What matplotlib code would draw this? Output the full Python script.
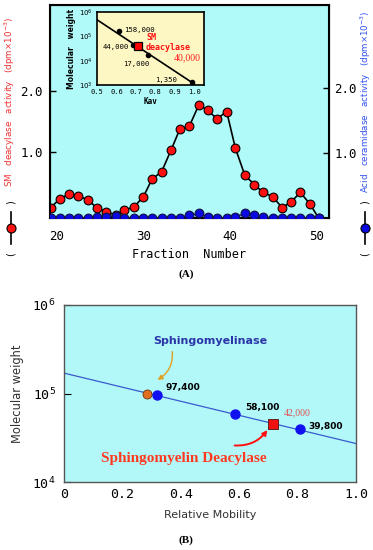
import numpy as np
import matplotlib
matplotlib.use("Agg")
import matplotlib.pyplot as plt
from matplotlib.lines import Line2D

# panel A: gel filtration profile
fraction = [19.3, 20.4, 21.4, 22.5, 23.6, 24.6, 25.7, 26.8, 27.8, 28.9,
            30.0, 31.0, 32.1, 33.2, 34.2, 35.3, 36.4, 37.4, 38.5, 39.6,
            40.6, 41.7, 42.8, 43.8, 44.9, 46.0, 47.0, 48.1, 49.2, 50.2]
sm_deacylase = [0.08, 0.23, 0.30, 0.27, 0.21, 0.08, 0.01, -0.04, 0.04, 0.09,
                0.26, 0.55, 0.67, 1.03, 1.37, 1.42, 1.77, 1.68, 1.54, 1.66,
                1.06, 0.61, 0.46, 0.33, 0.26, 0.08, 0.17, 0.33, 0.14, -0.09]
acid_ceramidase = [0.0, 0.0, 0.0, 0.0, 0.0, 0.02, 0.02, 0.03, 0.0, 0.0,
                   0.0, 0.0, 0.0, 0.0, 0.0, 0.04, 0.07, 0.015, 0.0, 0.0,
                   0.015, 0.07, 0.05, 0.02, 0.0, 0.0, 0.0, 0.0, 0.0, 0.0]

# inset: calibration
kav_std = [0.614, 0.687, 0.764, 0.989]
mw_std = [158000, 44000, 17000, 1350]
std_labels = ["158,000", "44,000", "17,000", "1,350"]
kav_line = [0.5, 1.0]
mw_line = [4.8e5, 1.1e3]
kav_sm = 0.709
mw_sm = 40000

# panel B: SDS-PAGE
mob_std = [0.32, 0.586, 0.808]
mwb_std = [97400, 58100, 39800]
mob_smase = 0.283
mw_smase = 100000
mob_deac = 0.715
mw_deac = 45500
mob_line = [0.0, 1.0]
mwb_line = [1.7e5, 2.72e4]

W, H = 373, 550
fig = plt.figure(figsize=(W / 100, H / 100), dpi=100)

def box(l, t, r, b):
    return [l / W, 1 - b / H, (r - l) / W, (b - t) / H]

mono = "DejaVu Sans Mono"

# ---------- panel A ----------
ax = fig.add_axes(box(50, 5, 329, 218))
ax.set_facecolor("#b0fafa")
ax.plot(fraction, sm_deacylase, color="black", lw=1.2, marker="o", ms=6.3,
        mfc="#ff1010", mec="black", mew=0.8, zorder=3)
ax.set_xlim(19.23, 51.4)
ax.set_ylim(-0.09, 3.41)
ax.set_yticks([1.0, 2.0])
ax.set_yticklabels(["1.0", "2.0"], fontfamily=mono, fontsize=9)
ax.set_xticks([20, 30, 40, 50])
ax.set_xticklabels(["20", "30", "40", "50"], fontfamily=mono, fontsize=9)
ax.tick_params(axis="x", length=0, pad=9)
ax.tick_params(axis="y", direction="in", length=4, width=1, pad=5)
for s in ax.spines.values():
    s.set_linewidth(1.5)
ax.set_xlabel("Fraction  Number", fontfamily=mono, fontsize=8.5, labelpad=3)

ax2 = ax.twinx()
ax2.plot(fraction, acid_ceramidase, color="#202060", lw=1.0, marker="o", ms=6.3,
         mfc="#0a0ae0", mec="#101040", mew=0.8, zorder=4)
ax2.set_ylim(0, 3.28)
ax2.set_yticks([1.0, 2.0])
ax2.set_yticklabels(["1.0", "2.0"], fontfamily=mono, fontsize=9)
ax2.tick_params(axis="y", direction="in", length=4, width=1, pad=4)
ax2.set_xlim(19.23, 51.4)

# y labels with series symbols
fig.text(10 / W, 1 - 102 / H, "SM   deacylase   activity   (dpm$\\times$10$^{-3}$)",
         rotation=90, color="#f03030", fontsize=6.3, ha="center", va="center")
fig.text(366 / W, 1 - 102 / H, "Acid   ceramidase   activity   (dpm$\\times$10$^{-3}$)",
         rotation=90, color="#3050f0", fontsize=6.3, ha="center", va="center")
for xp, fc in [(11, "#ff1010"), (365, "#0a0ae0")]:
    fig.add_artist(Line2D([xp / W, xp / W], [1 - 244 / H, 1 - 212 / H],
                          transform=fig.transFigure, color="black", lw=1.2))
    fig.add_artist(Line2D([xp / W], [1 - 228 / H], transform=fig.transFigure,
                          marker="o", ms=6.5, mfc=fc, mec="black", mew=0.8))
    fig.text(xp / W, 1 - 254 / H, "(", rotation=90, fontsize=7, ha="center", va="center")
    fig.text(xp / W, 1 - 202 / H, ")", rotation=90, fontsize=7, ha="center", va="center")

fig.text(186 / W, 1 - 274 / H, "(A)", fontfamily="Liberation Serif", fontweight="bold",
         fontsize=8, ha="center", va="center")

# ---------- inset ----------
axi = fig.add_axes(box(97, 12, 204, 85))
axi.set_facecolor("#fdf7c4")
axi.set_yscale("log")
axi.plot(kav_line, mw_line, color="black", lw=1.2)
axi.plot(kav_std, mw_std, "o", color="black", ms=3)
axi.plot([kav_sm], [mw_sm], "s", ms=5.5, mfc="#ff0000", mec="black", mew=0.9)
axi.set_xlim(0.5, 1.05)
axi.set_ylim(1e3, 1e6)
axi.set_xticks([0.5, 0.6, 0.7, 0.8, 0.9, 1.0])
axi.set_xticklabels(["0.5", "0.6", "0.7", "0.8", "0.9", "1.0"], fontfamily=mono, fontsize=5)
axi.set_yticks([1e3, 1e4, 1e5, 1e6])
axi.set_yticklabels(["10$^3$", "10$^4$", "10$^5$", "10$^6$"], fontsize=5)
axi.minorticks_off()
axi.tick_params(axis="x", length=0, pad=3)
axi.tick_params(axis="y", length=0, pad=3)
for s in axi.spines.values():
    s.set_linewidth(1.2)
axi.set_xlabel("Kav", fontfamily=mono, fontsize=5.5, fontweight="bold", labelpad=1)
axi.set_ylabel("Molecular   weight", fontsize=5.5, fontweight="bold", labelpad=2)
ipos = [(0.64, 1.8e5, "left"), (0.666, 3.5e4, "right"), (0.704, 7.6e3, "center"),
        (0.854, 1.6e3, "center")]
for (x, y, ha), lab in zip(ipos, std_labels):
    axi.text(x, y, lab, fontfamily=mono, fontsize=5.2, ha=ha, va="center")
axi.text(0.752, 8.9e4, "SM", color="#ff1010", fontfamily=mono, fontsize=6,
         fontweight="bold", va="center")
axi.text(0.752, 3.5e4, "deacylase", color="#ff1010", fontfamily=mono, fontsize=6,
         fontweight="bold", va="center")
axi.text(0.963, 1.3e4, "40,000", color="#ff2020", fontfamily="Liberation Serif",
         fontsize=7, ha="center", va="center")

# ---------- panel B ----------
bx = fig.add_axes(box(64, 305, 356, 482))
bx.set_facecolor("#b3f8f8")
bx.set_yscale("log")
bx.plot(mob_line, mwb_line, color="#3a5ad0", lw=0.9)
bx.plot(mob_std, mwb_std, "o", ms=6.5, color="#1010f0")
bx.plot([mob_smase], [mw_smase], "o", ms=6.5, mfc="#e07020", mec="#703010", mew=0.6)
bx.plot([mob_deac], [mw_deac], "s", ms=7, mfc="#f01010", mec="#602020", mew=0.7)
bx.set_xlim(0, 1.0)
bx.set_ylim(1e4, 1e6)
bx.set_xticks([0, 0.2, 0.4, 0.6, 0.8, 1.0])
bx.set_xticklabels(["0", "0.2", "0.4", "0.6", "0.8", "1.0"], fontfamily=mono, fontsize=9.5)
bx.set_yticks([1e4, 1e5, 1e6])
bx.set_yticklabels(["10$^4$", "10$^5$", "10$^6$"], fontfamily=mono, fontsize=9.5)
bx.minorticks_off()
bx.tick_params(axis="x", length=0, pad=4)
bx.tick_params(axis="y", direction="in", length=5, pad=6)
for s in bx.spines.values():
    s.set_color("#555555")
    s.set_linewidth(1.0)
bx.set_xlabel("Relative Mobility", fontsize=8, color="#333333", labelpad=7)
bx.set_ylabel("Molecular weight", fontsize=8.3, color="#333333", labelpad=6)

for x, y, lab in zip([0.346, 0.62, 0.836], [1.18e5, 7.0e4, 4.25e4], ["97,400", "58,100", "39,800"]):
    bx.text(x, y, lab, fontsize=6.5, fontweight="bold", va="center")
bx.text(0.753, 6.0e4, "42,000", color="#e05050", fontfamily="Liberation Serif",
        fontsize=7, va="center")
bx.text(0.5, 3.9e5, "Sphingomyelinase", color="#2a35a8", fontsize=8,
        fontweight="bold", ha="center", va="center")
bx.text(0.41, 1.86e4, "Sphingomyelin Deacylase", color="#ff3a20",
        fontfamily="Liberation Serif", fontsize=11, fontweight="bold",
        ha="center", va="center")
bx.annotate("", xy=(0.312, 1.38e5), xytext=(0.37, 3.2e5),
            arrowprops=dict(arrowstyle="-|>", color="#e0a020", lw=1,
                            mutation_scale=7, connectionstyle="arc3,rad=-0.35"))
bx.annotate("", xy=(0.702, 4.1e4), xytext=(0.575, 2.6e4),
            arrowprops=dict(arrowstyle="-|>", color="#ff1010", lw=1.4,
                            mutation_scale=7, connectionstyle="arc3,rad=0.3"))

fig.text(186 / W, 1 - 540 / H, "(B)", fontfamily="Liberation Serif", fontweight="bold",
         fontsize=8, ha="center", va="center")

fig.savefig("out.png", dpi=100)
